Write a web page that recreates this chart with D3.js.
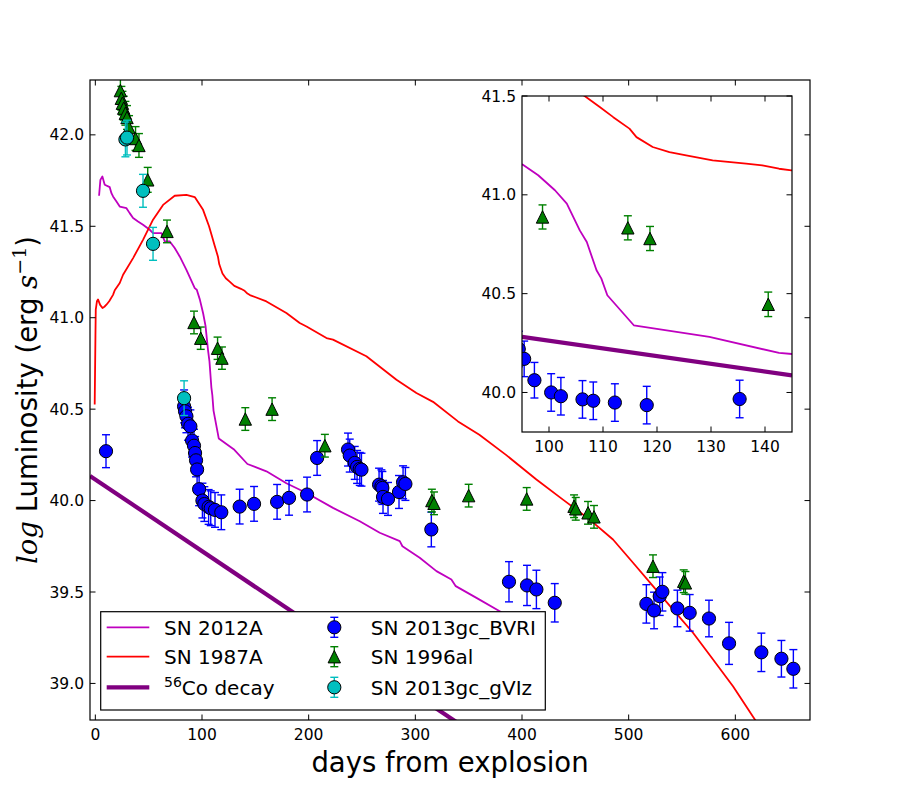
<!DOCTYPE html>
<html><head><meta charset="utf-8">
<script src="https://cdn.jsdelivr.net/npm/d3@7"></script>
<style>body{margin:0;background:#fff} svg text{font-family:"DejaVu Sans",sans-serif;fill:#000}</style>
</head><body>
<svg id="chart" width="900" height="800"></svg>
<script>
// ---------------- data ----------------
const sn2012aDays = [3.5, 4.75, 6.6, 8.8, 13.5, 15.1, 16.6, 19.8, 22.9, 29.2, 32.2, 35.4, 40, 44.7, 51, 54.1, 62, 65.1, 69.8, 74.4, 79.1, 85.4, 93.2, 95.1, 98.0, 101.1, 103.3, 105.7, 107.0, 108.8, 109.7, 110.8, 115.7, 129.7, 142.6, 160.4, 179.1, 198.5, 222.8, 247.9, 266.6, 285.4, 287.9, 304.1, 319.8, 333.8, 337.9, 357.3, 379.1, 400];
const sn2012aLum = [41.667, 41.754, 41.772, 41.727, 41.714, 41.681, 41.663, 41.636, 41.608, 41.599, 41.572, 41.545, 41.526, 41.508, 41.481, 41.463, 41.463, 41.417, 41.417, 41.381, 41.335, 41.262, 41.162, 41.153, 41.099, 41.023, 40.955, 40.82, 40.761, 40.618, 40.576, 40.492, 40.34, 40.281, 40.2, 40.16, 40.095, 40.04, 39.96, 39.887, 39.824, 39.778, 39.75, 39.687, 39.614, 39.568, 39.532, 39.468, 39.395, 39.32];

const sn1987aDays = [-0.6, 0.1, 0.4, 1.5, 2.5, 4.5, 6.7, 8.5, 10.4, 13, 16.6, 18.2, 22.9, 26, 35.4, 44.7, 54.1, 63.5, 74.4, 85.4, 93.2, 101, 106.6, 109.4, 111.9, 114.9, 116.2, 119.2, 122.3, 125.4, 130.3, 136.5, 139.5, 142.6, 144.9, 160.4, 179.1, 191.6, 198, 216.7, 222.8, 254.1, 282.3, 301, 316.6, 340, 360, 385, 413.5, 438.4, 463.5, 485.3, 504.1, 522.8, 541.6, 560.3, 579.1, 597.8, 616.6, 630];
const sn1987aLum = [40.525, 40.9, 41.044, 41.09, 41.1, 41.07, 41.053, 41.06, 41.071, 41.09, 41.125, 41.15, 41.19, 41.235, 41.326, 41.426, 41.536, 41.617, 41.667, 41.672, 41.66, 41.59, 41.5, 41.444, 41.393, 41.335, 41.292, 41.242, 41.216, 41.2, 41.174, 41.158, 41.149, 41.132, 41.124, 41.089, 41.026, 40.971, 40.952, 40.889, 40.88, 40.789, 40.661, 40.588, 40.54, 40.433, 40.36, 40.25, 40.115, 40.005, 39.896, 39.787, 39.66, 39.532, 39.404, 39.277, 39.131, 38.985, 38.818, 38.7];

const coDecayDays = [-5, 670];
const coDecayLum = [40.135, 37.49];
const coDecayInsetDays = [95, 145];
const coDecayInsetLum = [40.281, 40.086];

const bvriDays = [10, 83.2, 84.1, 85.4, 86.9, 89.1, 90.7, 92.5, 93.5, 94.4, 95.4, 97.3, 100.4, 102.2, 106.2, 108.2, 112.2, 118.1, 135.3, 148.8, 170.4, 181.6, 198.5, 207.9, 236.9, 238.5, 243.2, 245.4, 247.9, 249.5, 266, 268.2, 269.1, 269.7, 274.4, 284.7, 288.5, 290.7, 315, 387.8, 404.7, 413.5, 430.7, 516.6, 523.8, 529.1, 531.6, 545.7, 557.2, 575.3, 594.1, 624.4, 643.2, 654.4];
const bvriLum = [40.27, 40.515, 40.488, 40.461, 40.42, 40.406, 40.328, 40.30, 40.26, 40.22, 40.17, 40.062, 40.0, 39.981, 39.965, 39.958, 39.949, 39.936, 39.967, 39.982, 39.993, 40.015, 40.033, 40.233, 40.279, 40.246, 40.206, 40.184, 40.173, 40.169, 40.087, 40.078, 40.069, 40.02, 40.009, 40.047, 40.10, 40.091, 39.842, 39.556, 39.536, 39.514, 39.441, 39.435, 39.399, 39.477, 39.501, 39.41, 39.386, 39.355, 39.219, 39.17, 39.135, 39.08];
const bvriErr = [0.09, 0.09, 0.09, 0.09, 0.09, 0.09, 0.09, 0.09, 0.09, 0.09, 0.09, 0.09, 0.095, 0.095, 0.095, 0.095, 0.095, 0.095, 0.095, 0.095, 0.095, 0.095, 0.095, 0.095, 0.09, 0.09, 0.09, 0.09, 0.09, 0.09, 0.09, 0.09, 0.09, 0.09, 0.09, 0.09, 0.09, 0.09, 0.095, 0.11, 0.11, 0.105, 0.105, 0.105, 0.1, 0.105, 0.105, 0.1, 0.1, 0.1, 0.115, 0.105, 0.1, 0.105];

const sn1996alDays = [23.5, 24.4, 25.4, 26.6, 28.2, 29.7, 31.6, 37.7, 40.9, 49.1, 67.2, 92.5, 98.8, 114.6, 118.7, 140.6, 165.7, 215.2, 315.5, 317.5, 350, 404.4, 448.8, 450.4, 461.9, 467.5, 522.8, 551.6, 553.2];
const sn1996alLum = [42.242, 42.2, 42.173, 42.146, 42.118, 42.095, 42.04, 41.98, 41.942, 41.754, 41.472, 40.974, 40.888, 40.833, 40.779, 40.446, 40.50, 40.30, 40.0, 39.985, 40.027, 40.009, 39.969, 39.955, 39.933, 39.911, 39.641, 39.559, 39.55];
const sn1996alErr = [0.065, 0.065, 0.065, 0.065, 0.065, 0.065, 0.065, 0.065, 0.065, 0.068, 0.062, 0.062, 0.061, 0.061, 0.061, 0.062, 0.062, 0.062, 0.062, 0.062, 0.062, 0.062, 0.062, 0.062, 0.062, 0.062, 0.062, 0.062, 0.062];

const gvizDays = [28.2, 29.7, 44.7, 54.1, 83.2];
const gvizLum = [41.975, 41.985, 41.694, 41.404, 40.56];
const gvizErr = [0.095, 0.095, 0.09, 0.09, 0.095];

const mainXTicks = [0, 100, 200, 300, 400, 500, 600];
const mainYTicks = [39.0, 39.5, 40.0, 40.5, 41.0, 41.5, 42.0];
const insetXTicks = [100, 110, 120, 130, 140];
const insetYTicks = [40.0, 40.5, 41.0, 41.5];

const legendLines = ["SN 2012A", "SN 1987A", "Co decay"];
const legendPoints = ["SN 2013gc_BVRI", "SN 1996al", "SN 2013gc_gVIz"];

// ---------------- styles ----------------
const C = {m: "#bf00bf", r: "#ff0000", co: "#800080", b: "#0000ff", g: "#008000", c: "#00bfbf"};
const TRI = 6.2, CIR = 6.6;

const svg = d3.select("#chart");
svg.append("rect").attr("width", 900).attr("height", 800).attr("fill", "#fff");

const zip = (a, b, e) => a.map((d, i) => ({x: d, y: b[i], e: e ? e[i] : 0}));

function triPath(s) { return `M0,${-s}L${-s},${s}L${s},${s}Z`; }

function drawPanel(cfg) {
  const {id, left, right, top, bottom, xDom, yDom, xTicks, yTicks, coD, coL} = cfg;
  const x = d3.scaleLinear().domain(xDom).range([left, right]);
  const y = d3.scaleLinear().domain(yDom).range([bottom, top]);
  const g = svg.append("g");
  g.append("rect").attr("x", left).attr("y", top).attr("width", right - left).attr("height", bottom - top).attr("fill", "#fff");
  svg.append("clipPath").attr("id", id).append("rect").attr("x", left).attr("y", top).attr("width", right - left).attr("height", bottom - top);
  const pg = g.append("g").attr("clip-path", `url(#${id})`);
  const line = d3.line().x(d => x(d.x)).y(d => y(d.y));
  pg.append("path").datum(zip(sn2012aDays, sn2012aLum)).attr("d", line).attr("fill", "none").attr("stroke", C.m).attr("stroke-width", 1.8).attr("stroke-linejoin", "round");
  pg.append("path").datum(zip(sn1987aDays, sn1987aLum)).attr("d", line).attr("fill", "none").attr("stroke", C.r).attr("stroke-width", 1.8).attr("stroke-linejoin", "round");
  pg.append("path").datum(zip(coD, coL)).attr("d", line).attr("fill", "none").attr("stroke", C.co).attr("stroke-width", 4.2);

  function errPoints(data, color, shape) {
    const eg = pg.append("g");
    data.forEach(d => {
      const cx = x(d.x), y1 = y(d.y + d.e), y2 = y(d.y - d.e);
      eg.append("line").attr("x1", cx).attr("x2", cx).attr("y1", y1).attr("y2", y2).attr("stroke", color).attr("stroke-width", 1.4);
      [y1, y2].forEach(yy => eg.append("line").attr("x1", cx - 4).attr("x2", cx + 4).attr("y1", yy).attr("y2", yy).attr("stroke", color).attr("stroke-width", 1.4));
    });
    data.forEach(d => {
      if (shape === "tri") {
        eg.append("path").attr("d", triPath(TRI)).attr("transform", `translate(${x(d.x)},${y(d.y)})`).attr("fill", color).attr("stroke", "#000").attr("stroke-width", 1);
      } else {
        eg.append("circle").attr("cx", x(d.x)).attr("cy", y(d.y)).attr("r", CIR).attr("fill", color).attr("stroke", "#000").attr("stroke-width", 1);
      }
    });
  }
  errPoints(zip(bvriDays, bvriLum, bvriErr), C.b, "circle");
  errPoints(zip(sn1996alDays, sn1996alLum, sn1996alErr), C.g, "tri");
  errPoints(zip(gvizDays, gvizLum, gvizErr), C.c, "circle");

  // frame
  g.append("rect").attr("x", left).attr("y", top).attr("width", right - left).attr("height", bottom - top).attr("fill", "none").attr("stroke", "#000").attr("stroke-width", 1.2);
  const tl = 5.5;
  xTicks.forEach(t => {
    const px = x(t);
    g.append("line").attr("x1", px).attr("x2", px).attr("y1", bottom).attr("y2", bottom - tl).attr("stroke", "#000");
    g.append("line").attr("x1", px).attr("x2", px).attr("y1", top).attr("y2", top + tl).attr("stroke", "#000");
    g.append("text").attr("x", px).attr("y", bottom + 19.5).attr("text-anchor", "middle").attr("font-size", 15.5).text(d3.format("d")(t));
  });
  yTicks.forEach(t => {
    const py = y(t);
    g.append("line").attr("x1", left).attr("x2", left + tl).attr("y1", py).attr("y2", py).attr("stroke", "#000");
    g.append("line").attr("x1", right).attr("x2", right - tl).attr("y1", py).attr("y2", py).attr("stroke", "#000");
    g.append("text").attr("x", left - 6).attr("y", py).attr("dy", "0.36em").attr("text-anchor", "end").attr("font-size", 15.5).text(d3.format(".1f")(t));
  });
  return {x, y};
}

const main = drawPanel({id: "clipMain", left: 90, right: 810, top: 80, bottom: 720, xDom: [-5, 670], yDom: [38.8, 42.3], xTicks: mainXTicks, yTicks: mainYTicks, coD: coDecayDays, coL: coDecayLum});

// axis labels
svg.append("text").attr("x", 450).attr("y", 772).attr("text-anchor", "middle").attr("font-size", 27.5).text("days from explosion");
const yl = svg.append("text").attr("transform", "translate(37,400) rotate(-90)").attr("text-anchor", "middle").attr("font-size", 27.5);
yl.append("tspan").attr("font-family", "DejaVu Serif").attr("font-style", "italic").text("log");
yl.append("tspan").text(" Luminosity (erg ");
yl.append("tspan").attr("font-family", "DejaVu Serif").attr("font-style", "italic").text("s");
yl.append("tspan").attr("font-family", "DejaVu Serif").attr("font-size", 19).attr("dy", -11).text("−1");
yl.append("tspan").attr("dy", 11).text(")");

// legend
const lg = svg.append("g");
lg.append("rect").attr("x", 100.7).attr("y", 611.7).attr("width", 444.6).attr("height", 98.3).attr("fill", "#fff").attr("stroke", "#000").attr("stroke-width", 1.2);
const rowsY = [627.3, 656.7, 687.3];
const lineStyles = [{c: C.m, w: 1.8}, {c: C.r, w: 1.8}, {c: C.co, w: 4.2}];
legendLines.forEach((name, i) => {
  lg.append("line").attr("x1", 106.7).attr("x2", 149.3).attr("y1", rowsY[i]).attr("y2", rowsY[i]).attr("stroke", lineStyles[i].c).attr("stroke-width", lineStyles[i].w);
  const t = lg.append("text").attr("x", 164).attr("y", rowsY[i] + 7.2).attr("font-size", 20);
  if (i === 2) {
    t.append("tspan").attr("font-size", 14).attr("dy", -8).text("56");
    t.append("tspan").attr("dy", 8).text(name);
  } else t.text(name);
});
const ptStyles = [{c: C.b, s: "circle"}, {c: C.g, s: "tri"}, {c: C.c, s: "circle"}];
legendPoints.forEach((name, i) => {
  const cx = 334.3, cy = rowsY[i], col = ptStyles[i].c;
  lg.append("line").attr("x1", cx).attr("x2", cx).attr("y1", cy - 10).attr("y2", cy + 10).attr("stroke", col).attr("stroke-width", 1.4);
  [cy - 10, cy + 10].forEach(yy => lg.append("line").attr("x1", cx - 4).attr("x2", cx + 4).attr("y1", yy).attr("y2", yy).attr("stroke", col).attr("stroke-width", 1.4));
  if (ptStyles[i].s === "tri") lg.append("path").attr("d", triPath(TRI)).attr("transform", `translate(${cx},${cy})`).attr("fill", col).attr("stroke", "#000");
  else lg.append("circle").attr("cx", cx).attr("cy", cy).attr("r", CIR).attr("fill", col).attr("stroke", "#000");
  lg.append("text").attr("x", 370.7).attr("y", cy + 7.2).attr("font-size", 20).text(name);
});

// inset
drawPanel({id: "clipInset", left: 522, right: 792, top: 96, bottom: 432, xDom: [95, 145], yDom: [39.8, 41.5], xTicks: insetXTicks, yTicks: insetYTicks, coD: coDecayInsetDays, coL: coDecayInsetLum});
</script>
</body></html>
